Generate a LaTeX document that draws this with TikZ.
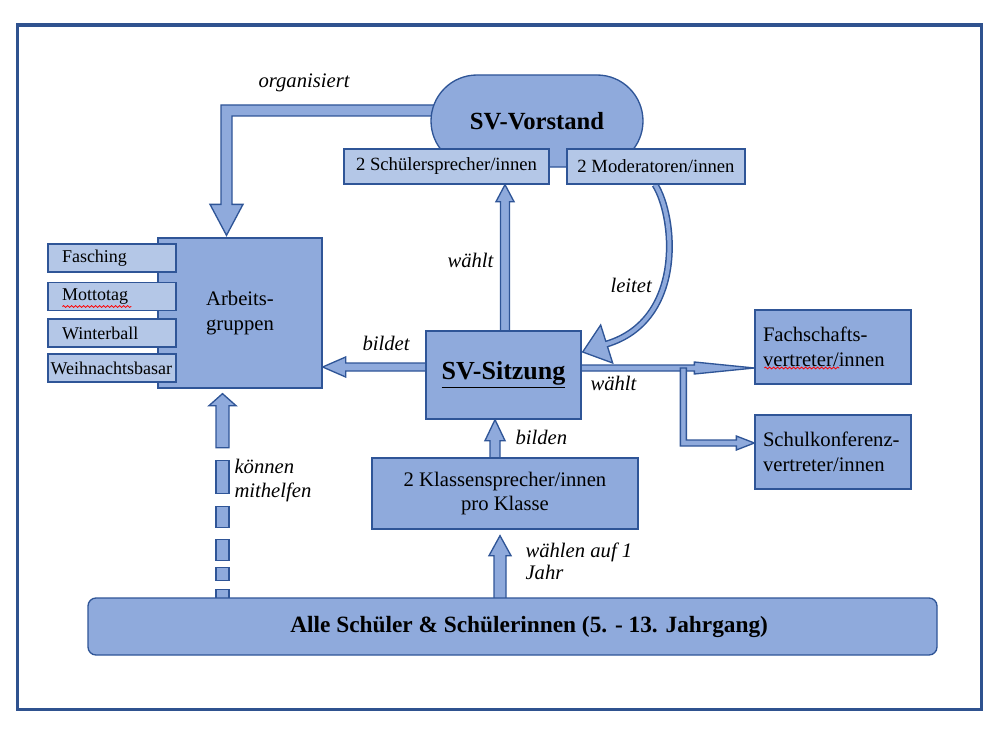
\documentclass[tikz,border=0pt]{standalone}
\usepackage{fontspec}
\setmainfont{Liberation Serif}
\usetikzlibrary{calc,backgrounds,decorations.pathmorphing}

\definecolor{boxfill}{RGB}{143,170,220}
\definecolor{subfill}{RGB}{180,199,231}
\definecolor{boxline}{RGB}{47,85,151}
\definecolor{framecol}{RGB}{47,82,143}

\tikzset{every picture/.style={line width=0.75pt}}
\tikzset{
  mainbox/.style={draw=boxline, fill=boxfill, line width=1pt, inner sep=0pt, font=\fontsize{15.5}{18.5}\selectfont},
  topbox/.style={draw=boxline, fill=subfill, line width=1pt, minimum height=26.25pt, inner sep=0pt, font=\fontsize{14}{16}\selectfont},
  sidebox/.style={draw=boxline, fill=subfill, line width=1pt, minimum height=21pt, inner ysep=0pt, inner xsep=10.5pt, text width=75pt, align=left, font=\fontsize{13.5}{16}\selectfont},
  lbl/.style={anchor=west, inner sep=0pt, align=left, font=\fontsize{15.5}{18}\itshape\selectfont},
  blockarrow/.style={draw=boxline, fill=boxfill, line width=1pt, line join=miter},
  spell/.style={draw=red, line width=0.6pt, decorate, decoration={snake, amplitude=0.7pt, segment length=3pt}}
}

\begin{document}
\begin{tikzpicture}[x=0.75pt,y=0.75pt,yscale=-1,xscale=1]
	\useasboundingbox (0,0) rectangle (1000,735);

	%Shape: Rectangle
	\draw [framecol, line width=2.8pt] (17.5,25) rectangle (981.5,709.5);

	%Shape: Rounded Rect
	\node [mainbox, rounded corners=34.5pt, minimum width=159pt, minimum height=69pt, font=\fontsize{18.5}{21}\bfseries\selectfont] (vorstand) at (537,121) {SV-Vorstand};
	%Shape: Rectangle
	\node [topbox, minimum width=153.75pt] (schueler) at (446.5,166.5) {2 Schülersprecher/innen};
	%Shape: Rectangle
	\node [topbox, minimum width=133.5pt] (moder) at (656,166.5) {2 Moderatoren/innen};

	%Shape: Rectangle
	\node [mainbox, minimum width=123pt, minimum height=112.5pt, align=left] (arbeit) at (240,313) {Arbeits-\\gruppen};
	%Shape: Rectangle
	\node [sidebox] (fasch) at (112,258) {Fasching};
	\node [sidebox] (motto) at (112,296.5) {Mottotag};
	\node [sidebox] (winter) at (112,333) {Winterball};
	\node [sidebox, inner xsep=1.875pt, text width=92.25pt] (weihn) at (112,368) {Weihnachtsbasar};
	\draw [spell] ($(motto.west)+(15,10)$) -- ($(motto.west)+(84,10)$);

	%Shape: Rectangle
	\node [mainbox, minimum width=116.25pt, minimum height=66pt, font=\fontsize{19.5}{22}\bfseries\selectfont] (sitzung) at (503.5,375) {\underline{SV-Sitzung}};
	%Shape: Rectangle
	\node [mainbox, minimum width=199.5pt, minimum height=53.25pt, align=center] (klassen) at (505,493.5) {2 Klassensprecher/innen\\pro Klasse};
	%Shape: Rectangle
	\node [mainbox, text width=105pt, inner xsep=6pt, minimum height=55.5pt, align=left] (fach) at (833,347) {Fachschafts-\\vertreter/innen};
	\draw [spell] ($(fach.west)+(10,21)$) -- ($(fach.west)+(85,21)$);
	%Shape: Rectangle
	\node [mainbox, text width=105pt, inner xsep=6pt, minimum height=55.5pt, align=left] (schulk) at (833,452) {Schulkonferenz-\\vertreter/innen};
	%Shape: Rounded Rect
	\node [mainbox, rounded corners=6pt, minimum width=636.75pt, minimum height=42.75pt, font=\fontsize{17.5}{20}\bfseries\selectfont] (alle) at (512.5,626.5) {\hspace*{25pt}Alle Schüler \& Schülerinnen (5. - 13. Jahrgang)};

	\begin{scope}[on background layer]
	%Right Arrow [organisiert]
	\coordinate (ot) at ($(arbeit.north)+(-13.5,-2)$);
	\coordinate (os) at ($(vorstand.west)+(15,-10.5)$);
	\draw [blockarrow] (ot) -- ($(ot)+(16.5,-31)$) -- ($(ot)+(5.5,-31)$) |- ($(os)+(0,5.5)$) -- ($(os)+(0,-5.5)$) -| ($(ot)+(-5.5,-31)$) -- ($(ot)+(-16.5,-31)$) -- cycle;
	%Up Arrow [waehlt]
	\coordinate (wt) at ($(sitzung.north |- schueler.south)+(1.5,0)$);
	\draw [blockarrow] (wt) -- ($(wt)+(9,17)$) -- ($(wt)+(4.5,17)$) -- ($(wt |- sitzung.north)+(4.5,5)$) -- ($(wt |- sitzung.north)+(-4.5,5)$) -- ($(wt)+(-4.5,17)$) -- ($(wt)+(-9,17)$) -- cycle;
	%Left Arrow [bildet]
	\coordinate (bt) at ($(arbeit.east |- sitzung.west)+(0,-8)$);
	\draw [blockarrow] (bt) -- ($(bt)+(23,-10)$) -- ($(bt)+(23,-4)$) -- ($(bt -| sitzung.west)+(5,-4)$) -- ($(bt -| sitzung.west)+(5,4)$) -- ($(bt)+(23,4)$) -- ($(bt)+(23,10)$) -- cycle;
	%Up Arrow [bilden]
	\coordinate (kt) at ($(sitzung.south)+(-8.5,0)$);
	\draw [blockarrow] (kt) -- ($(kt)+(10,21)$) -- ($(kt)+(5,21)$) -- ($(kt |- klassen.north)+(5,5)$) -- ($(kt |- klassen.north)+(-5,5)$) -- ($(kt)+(-5,21)$) -- ($(kt)+(-10,21)$) -- cycle;
	%Up Arrow [waehlen]
	\coordinate (at) at ($(klassen.south)+(-5,6)$);
	\draw [blockarrow] (at) -- ($(at)+(11,20)$) -- ($(at)+(6,20)$) -- ($(at |- alle.north)+(6,5)$) -- ($(at |- alle.north)+(-6,5)$) -- ($(at)+(-6,20)$) -- ($(at)+(-11,20)$) -- cycle;
	%Up Arrow [mithelfen, dashed]
	\coordinate (mt) at ($(arbeit.south)+(-17.5,5)$);
	\draw [blockarrow] (mt) -- ($(mt)+(13.5,12)$) -- ($(mt)+(6.5,12)$) -- ($(mt)+(6.5,54)$) -- ($(mt)+(-6.5,54)$) -- ($(mt)+(-6.5,12)$) -- ($(mt)+(-13.5,12)$) -- cycle;
	\foreach \ya/\yb in {67/100, 113/134, 146/167, 174/187, 196/210}
	  \draw [blockarrow] ($(mt)+(-6.5,\ya)$) rectangle ($(mt)+(6.5,\yb)$);
	%Right Arrow [waehlt]
	\coordinate (rt) at ($(fach.west)+(0,21)$);
	\draw [blockarrow] (rt) -- ($(rt)+(-60,-6)$) -- ($(rt)+(-60,-3)$) -- ($(rt -| sitzung.east)+(-5,-3)$) -- ($(rt -| sitzung.east)+(-5,3)$) -- ($(rt)+(-60,3)$) -- ($(rt)+(-60,6)$) -- cycle;
	%Bent Arrow [Schulkonferenz]
	\coordinate (st) at ($(schulk.west)+(0,-9)$);
	\draw [blockarrow] (st) -- ($(st)+(-18,-7)$) -- ($(st)+(-18,-3)$) -- ($(st)+(-68,-3)$) -- ($(st |- rt)+(-68,0)$) -- ($(st |- rt)+(-74,0)$) -- ($(st)+(-74,3)$) -- ($(st)+(-18,3)$) -- ($(st)+(-18,7)$) -- cycle;
	%Curved Arrow [leitet]
	\coordinate (ls) at ($(moder.south)+(-1,0)$);
	\coordinate (lt) at ($(sitzung.east)+(1,-23)$);
	\draw [boxline, line width=5.25pt] (ls) .. controls ($(ls)+(20,31)$) and ($(lt)+(103,-32)$) .. ($(lt)+(24,-8)$);
	\draw [blockarrow] (lt) -- ($(lt)+(18,-27)$) -- ($(lt)+(30,11)$) -- cycle;
	\draw [boxfill, line width=3pt] (ls) .. controls ($(ls)+(20,31)$) and ($(lt)+(103,-32)$) .. ($(lt)+(24,-8)$) -- ($(lt)+(20,-7)$);
	\end{scope}

	% Text Node
	\node [lbl] (lorg) at (258,83) {organisiert};
	% Text Node
	\node [lbl] (lwahl) at (447,260) {wählt};
	% Text Node
	\node [lbl] (lleit) at (610,285) {leitet};
	% Text Node
	\node [lbl] (lbildet) at (362,343) {bildet};
	% Text Node
	\node [lbl] (lbilden) at (515,437) {bilden};
	% Text Node
	\node [lbl] (lwahlr) at (590,383) {wählt};
	% Text Node
	\node [lbl] (lhelf) at (234,481) {können\\mithelfen};
	% Text Node
	\node [lbl, font=\fontsize{15.5}{16.5}\itshape\selectfont] (ljahr) at (525,561) {wählen auf 1\\Jahr};

\end{tikzpicture}
\end{document}
